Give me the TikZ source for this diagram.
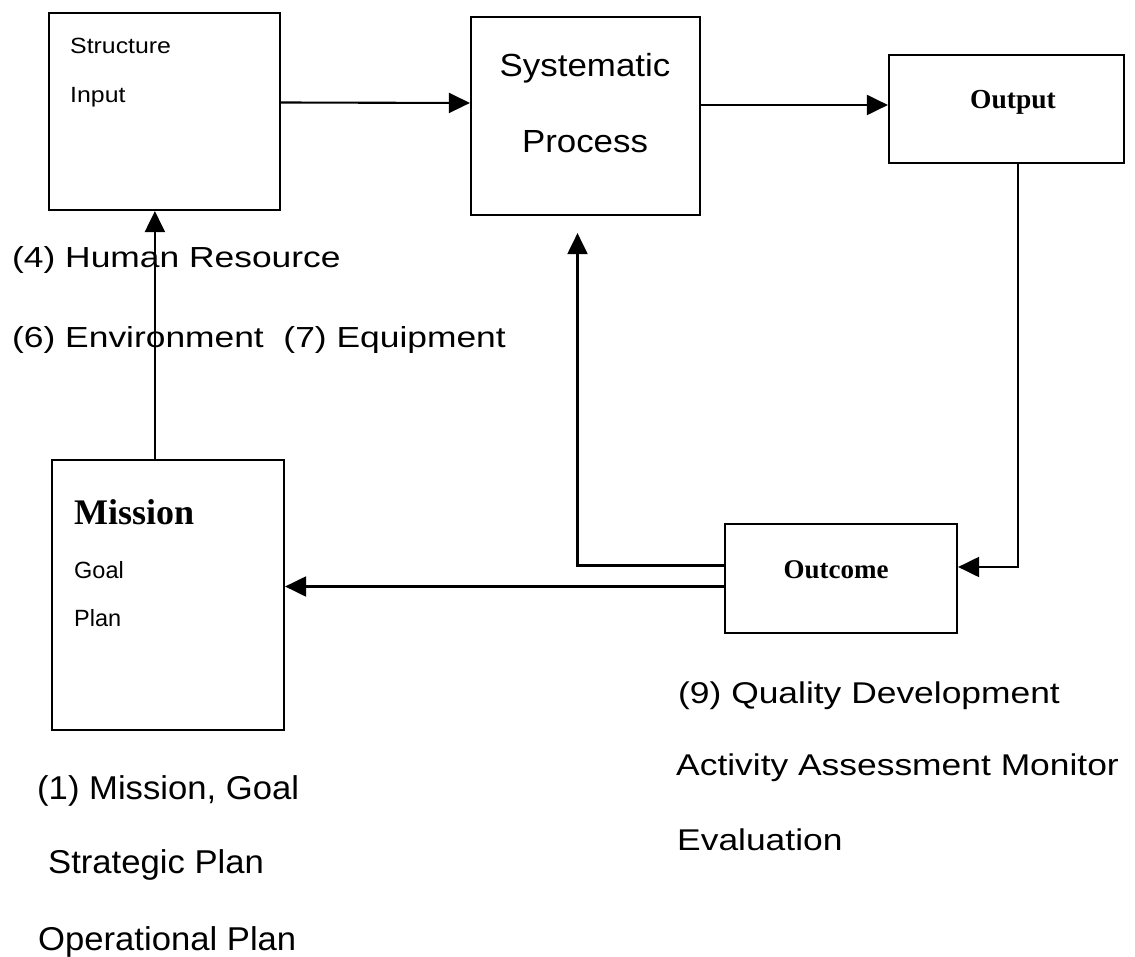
\documentclass[tikz,border=0pt]{standalone}
\usepackage{fontspec}
\setmainfont{Liberation Serif}
\newfontfamily\fa[FakeStretch=1.22]{Liberation Sans}
\newfontfamily\fb[FakeStretch=1.05]{Liberation Sans}
\newfontfamily\fc[FakeStretch=1.18]{Liberation Sans}
\newfontfamily\fd[FakeStretch=1.13]{Liberation Sans}
\newfontfamily\fe[FakeStretch=1.09]{Liberation Sans}
\newfontfamily\ff{Liberation Sans}
\usetikzlibrary{arrows.meta}
\begin{document}
\begin{tikzpicture}[x=1pt,y=-1pt,
  box/.style={draw, line width=2.2pt, rectangle, inner sep=0pt},
  arr/.style={line width=2.1pt, -{Triangle[length=21pt,width=20pt]}},
  txt/.style={inner sep=0pt, anchor=base west},
  ctxt/.style={inner sep=0pt, anchor=base}]
\useasboundingbox (0,0) rectangle (1135,957);
\fill[white] (0,0) rectangle (1135,957);
% boxes
\node[box, minimum width=231pt, minimum height=197pt] (structure) at (164.5,111.5) {};
\node[box, minimum width=229pt, minimum height=198pt] (systematic) at (585.5,116) {};
\node[box, minimum width=235pt, minimum height=108pt] (output) at (1006.5,109) {};
\node[box, minimum width=232pt, minimum height=270pt] (mission) at (168,595) {};
\node[box, minimum width=232pt, minimum height=109pt] (outcome) at (841,578.5) {};
% box texts
\node[txt] (tstructure) at (70,54) {\fd\fontsize{22pt}{26pt}\selectfont Structure};
\node[txt] (tinput) at (70,103) {\fd\fontsize{22pt}{26pt}\selectfont Input};
\node[ctxt] (tsys) at (585,77) {\fe\fontsize{32pt}{38pt}\selectfont Systematic};
\node[ctxt] (tproc) at (585,153) {\fe\fontsize{32pt}{38pt}\selectfont Process};
\node[ctxt] (toutput) at (1013,109) {\fontsize{27.5pt}{32pt}\selectfont\bfseries Output};
\node[ctxt] (toutcome) at (836,578) {\fontsize{27pt}{32pt}\selectfont\bfseries Outcome};
\node[txt] (tmission) at (74,524) {\fontsize{36pt}{42pt}\selectfont\bfseries Mission};
\node[txt] (tgoal) at (74,578) {\ff\fontsize{23.5pt}{28pt}\selectfont Goal};
\node[txt] (tplan) at (74,626) {\ff\fontsize{23.5pt}{28pt}\selectfont Plan};
% free labels
\node[txt] (l4) at (12,268) {\fa\fontsize{29pt}{34pt}\selectfont (4) Human Resource};
\node[txt] (l6) at (12,348) {\fa\fontsize{29pt}{34pt}\selectfont (6) Environment\ \ (7) Equipment};
\node[txt] (l1) at (37,799) {\fb\fontsize{33pt}{38pt}\selectfont (1) Mission, Goal};
\node[txt] (l2) at (48,873) {\fb\fontsize{33pt}{38pt}\selectfont Strategic Plan};
\node[txt] (l3) at (38,950) {\fb\fontsize{33pt}{38pt}\selectfont Operational Plan};
\node[txt] (l9) at (678,703) {\fc\fontsize{30pt}{35pt}\selectfont (9) Quality Development};
\node[txt] (la) at (676,775) {\fc\fontsize{30pt}{35pt}\selectfont Activity Assessment Monitor};
\node[txt] (le) at (677,850) {\fc\fontsize{30pt}{35pt}\selectfont Evaluation};
% connectors
\draw[arr] ([xshift=104pt]mission.north west) -- ([xshift=107pt]structure.south west);
\draw[arr] ([yshift=9pt]structure.east) -- ([yshift=13pt]systematic.west);
\draw[arr] ([yshift=11pt]systematic.east) -- ([yshift=4pt]output.west);
\draw[arr] ([xshift=11.5pt]output.south) |- ([yshift=11.5pt]outcome.east);
\draw[arr] ([yshift=13pt]outcome.west) -| ([xshift=-8pt,yshift=-17pt]systematic.south);
\draw[arr] ([yshift=-8pt]outcome.west) -- ([yshift=8.5pt]mission.east);
\end{tikzpicture}
\end{document}
